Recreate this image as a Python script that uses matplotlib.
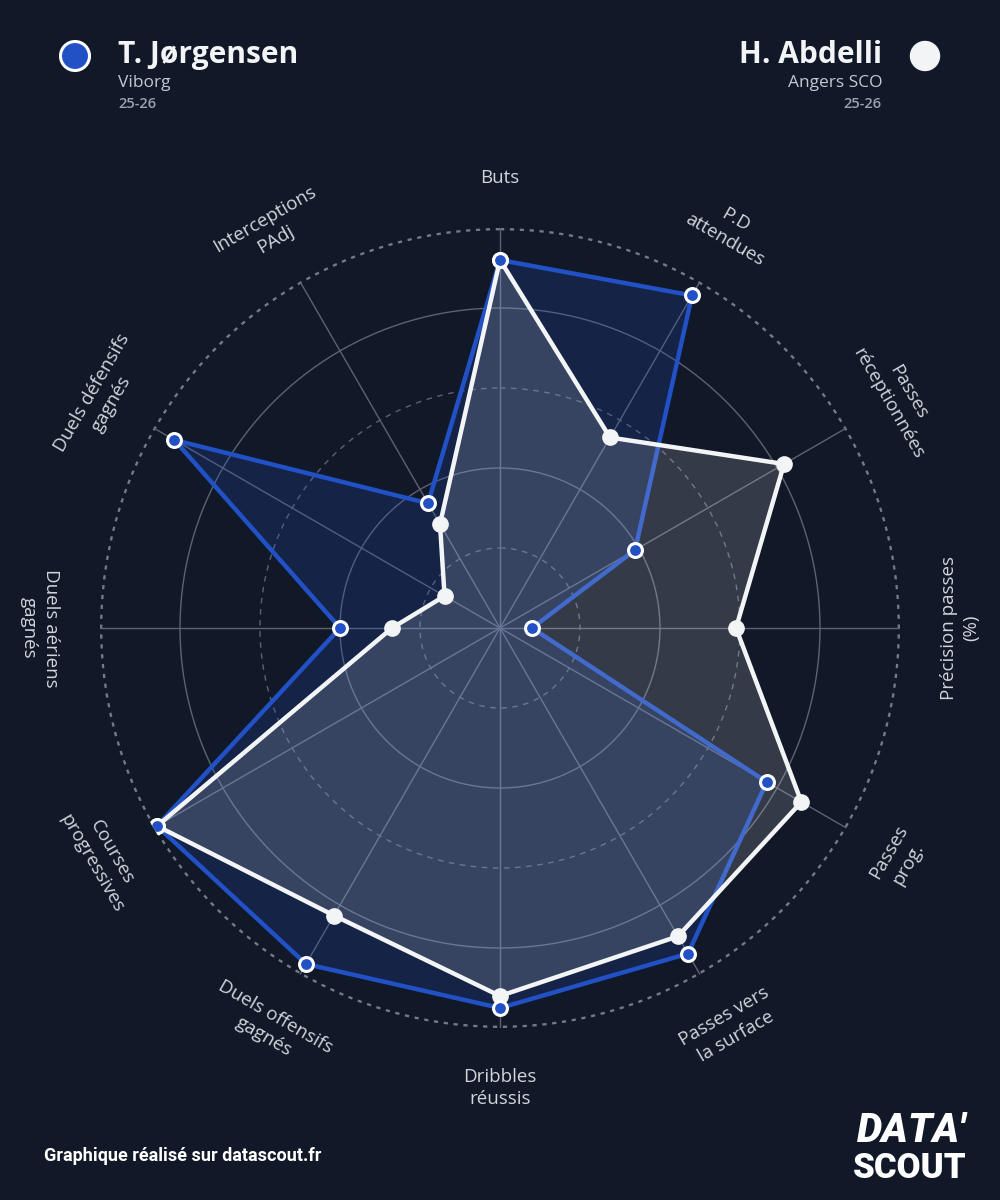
import numpy as np
import matplotlib
matplotlib.use("Agg")
import matplotlib.pyplot as plt
from matplotlib.patches import Ellipse

# Data
labels = ["Buts", "P.D\nattendues", "Passes\nréceptionnées", "Précision passes\n(%)",
          "Passes\nprog.", "Passes vers\nla surface", "Dribbles\nréussis",
          "Duels offensifs\ngagnés", "Courses\nprogressives", "Duels aériens\ngagnés",
          "Duels défensifs\ngagnés", "Interceptions\nPAdj"]
jorgensen = [0.92, 0.96, 0.39, 0.08, 0.77, 0.94, 0.95, 0.97, 0.99, 0.40, 0.94, 0.36]
abdelli = [0.92, 0.55, 0.82, 0.59, 0.87, 0.89, 0.92, 0.83, 0.99, 0.27, 0.16, 0.30]
player1 = ("T. Jørgensen", "Viborg", "25-26")
player2 = ("H. Abdelli", "Angers SCO", "25-26")

BG = "#111827"
BLUE = "#2151c4"
WHITE = "#f3f4f6"
GRID = "#5b6274"
plt.rcParams["font.family"] = ["Open Sans", "DejaVu Sans"]

n = len(labels)
angles = np.linspace(0, 2 * np.pi, n, endpoint=False)

fig = plt.figure(figsize=(10, 12), dpi=100, facecolor=BG)
ax = fig.add_axes([0.1, 1 - 1028 / 1200, 0.8, 800 / 1200], projection="polar")
ax.set_facecolor("none")
ax.set_theta_zero_location("N")
ax.set_theta_direction(-1)
ax.set_ylim(0, 1)
ax.grid(False)
ax.spines["polar"].set_visible(False)
ax.set_xticks([])
ax.set_yticks([])

# rings
t = np.linspace(0, 2 * np.pi, 600)
for r, ls in [(0.2, (0, (4, 4))), (0.4, "-"), (0.6, (0, (4, 4))), (0.8, "-")]:
    ax.plot(t, np.full_like(t, r), color=GRID, lw=1.0, ls=ls, zorder=1)
ax.plot(t, np.full_like(t, 1.0), color="#737b8b", lw=3.4, ls=(0, (0.9, 1.2)),
        solid_capstyle="butt", dash_capstyle="butt", zorder=1)
for a in angles:
    ax.plot([a, a], [0, 1.0], color=GRID, lw=1.0, zorder=1)

ang_c = np.append(angles, angles[0])
j = np.append(jorgensen, jorgensen[0])
h = np.append(abdelli, abdelli[0])

ax.fill(ang_c, j, color=BLUE, alpha=0.2, zorder=2, lw=0)
ax.plot(ang_c, j, color=BLUE, lw=3.2, zorder=3)
ax.fill(ang_c, h, color="white", alpha=0.15, zorder=4, lw=0)
ax.plot(ang_c, h, color=WHITE, lw=3.2, zorder=5)
ax.plot(angles, abdelli, "o", ms=11, color=WHITE, mec=WHITE, zorder=6)
ax.plot(angles, jorgensen, "o", ms=10, color=BLUE, mec="white", mew=2.2, zorder=7)

# axis labels
for a, lab in zip(angles, labels):
    deg = np.degrees(a)
    if deg < 90:
        rot = -deg
    elif deg <= 270:
        rot = 180 - deg
    else:
        rot = 360 - deg
    r_lab = 1.125 if "\n" not in lab else 1.15
    ax.text(a, r_lab, lab, rotation=rot, rotation_mode="anchor", ha="center", va="center",
            fontsize=13.5, color="#d1d5db", linespacing=1.35)

# header
rx = 0.029
ry = rx * 1000 / 1200
fig.patches.append(Ellipse((75 / 1000, 1 - 56 / 1200), rx, ry, transform=fig.transFigure,
                           facecolor=BLUE, edgecolor="white", lw=2.2, figure=fig))
fig.text(0.118, 1 - 55 / 1200, player1[0], fontsize=21.5, fontweight="bold", color=WHITE, va="center")
fig.text(0.118, 1 - 83 / 1200, player1[1], fontsize=12.5, color="#c3c8d2", va="center")
fig.text(0.118, 1 - 104 / 1200, player1[2], fontsize=10.5, color="#9ca3af", va="center",
         fontweight="semibold")

fig.patches.append(Ellipse((925 / 1000, 1 - 56 / 1200), rx, ry, transform=fig.transFigure,
                           facecolor=WHITE, edgecolor=WHITE, lw=1, figure=fig))
fig.text(0.882, 1 - 55 / 1200, player2[0], fontsize=21.5, fontweight="bold", color=WHITE,
         va="center", ha="right")
fig.text(0.882, 1 - 83 / 1200, player2[1], fontsize=12.5, color="#c3c8d2", va="center", ha="right")
fig.text(0.882, 1 - 104 / 1200, player2[2], fontsize=10.5, color="#9ca3af", va="center",
         ha="right", fontweight="semibold")

# footer
fig.text(0.044, 1 - 1156 / 1200, "Graphique réalisé sur datascout.fr", fontsize=13,
         fontweight="bold", color="white", va="center", family=["Roboto", "DejaVu Sans"])
fig.text(0.966, 1 - 1131 / 1200, "DATA'", fontsize=29, fontweight="heavy", style="italic",
         color="white", va="center", ha="right", family=["Roboto", "DejaVu Sans"])
fig.text(0.966, 1 - 1168 / 1200, "SCOUT", fontsize=25, fontweight="heavy",
         color="white", va="center", ha="right", family=["Roboto", "DejaVu Sans"])

fig.savefig("out.png", dpi=100, facecolor=BG)
